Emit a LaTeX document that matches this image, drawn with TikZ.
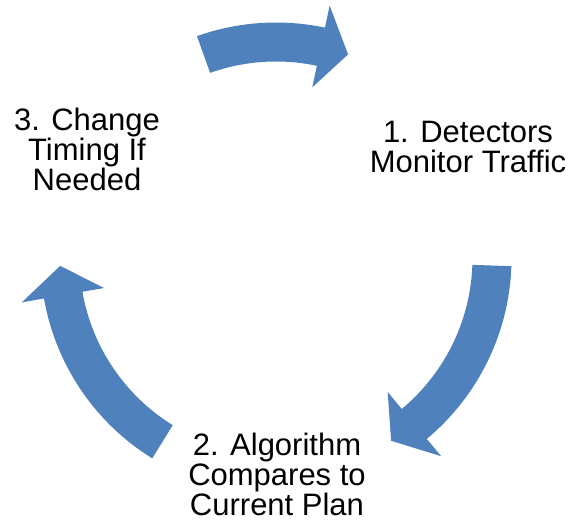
\documentclass[tikz,border=0pt]{standalone}
\usepackage{fontspec}
\setmainfont{Liberation Sans}
\definecolor{cblue}{HTML}{4F81BD}
\tikzset{
  every picture/.style={x=1pt, y=1pt},
  stage/.style={font=\fontsize{31}{30}\selectfont, align=center, inner sep=0pt},
  cyclearrow/.style={fill=cblue, draw=none},
}
\begin{document}
\begin{tikzpicture}
  \useasboundingbox (0,0) rectangle (570,527);
  \coordinate (hub) at (276,269);
  % curved block arrows: tail / head base / tip angles
  \foreach \a/\b/\c in {109.6/78/70.5, -2/-50.2/-57.8, 238.3/189.9/182.1} {
    \fill[cyclearrow, shift={(hub)}] (\a:235.5) arc[start angle=\a, end angle=\b, radius=235.5]
      -- (\b:258) -- (\c:216) -- (\b:174.5) -- (\b:196.5)
      arc[start angle=\b, end angle=\a, radius=196.5] -- cycle;
  }
  % stages
  \node[stage] (detect) at (468,380) {1. Detectors\\Monitor Traffic};
  \node[stage] (algo) at (277,53) {2. Algorithm\\Compares to\\Current Plan};
  \node[stage] (change) at (87,378) {3. Change\\Timing If\\Needed};
\end{tikzpicture}
\end{document}
